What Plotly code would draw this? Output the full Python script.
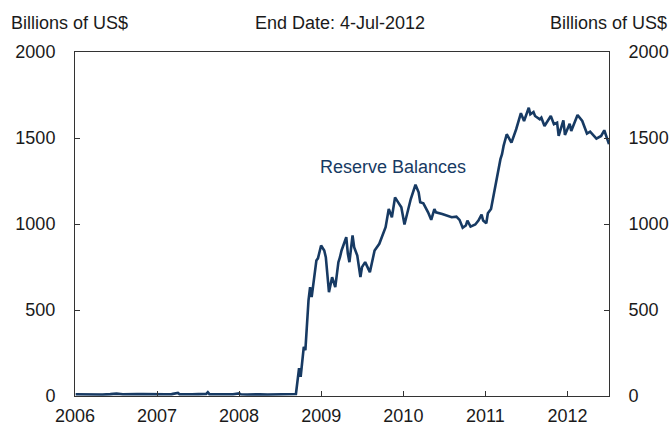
import plotly.graph_objects as go

dates = [
    "2006-01-04", "2006-02-01", "2006-03-01", "2006-04-05", "2006-05-03", "2006-06-07",
    "2006-07-05", "2006-08-02", "2006-09-06", "2006-10-04", "2006-11-01", "2006-12-06",
    "2007-01-03", "2007-02-07", "2007-03-07", "2007-04-04", "2007-04-11", "2007-05-02",
    "2007-06-06", "2007-07-04", "2007-08-08", "2007-08-15", "2007-08-22", "2007-09-05",
    "2007-10-03", "2007-11-07", "2007-12-05", "2008-01-02", "2008-01-09", "2008-02-06",
    "2008-03-05", "2008-04-02", "2008-05-07", "2008-06-04", "2008-07-02", "2008-08-06",
    "2008-09-03", "2008-09-10",
    "2008-09-24", "2008-10-01", "2008-10-15", "2008-10-22", "2008-11-05", "2008-11-12",
    "2008-11-19", "2008-12-10", "2008-12-17", "2008-12-31", "2009-01-14", "2009-01-21",
    "2009-02-04", "2009-02-18", "2009-03-04", "2009-03-18", "2009-03-25", "2009-04-01",
    "2009-04-22", "2009-04-29", "2009-05-06", "2009-05-20", "2009-05-27", "2009-06-10",
    "2009-06-24", "2009-07-01", "2009-07-15", "2009-08-05", "2009-08-26", "2009-09-16",
    "2009-10-14", "2009-10-28", "2009-11-11", "2009-11-25", "2009-12-09", "2009-12-23",
    "2010-01-06", "2010-01-20", "2010-02-03", "2010-02-24", "2010-03-10", "2010-03-17",
    "2010-03-31", "2010-04-21", "2010-05-05", "2010-05-19", "2010-05-26", "2010-06-23",
    "2010-07-14", "2010-08-04", "2010-08-25", "2010-09-08", "2010-09-22", "2010-10-06",
    "2010-10-13", "2010-10-27", "2010-11-17", "2010-12-01", "2010-12-15", "2010-12-22",
    "2011-01-05", "2011-01-12", "2011-01-26", "2011-02-16", "2011-02-23", "2011-03-09",
    "2011-03-16", "2011-03-23", "2011-04-06", "2011-04-27", "2011-05-18", "2011-06-08",
    "2011-06-22", "2011-07-13", "2011-07-20", "2011-08-03", "2011-08-10", "2011-08-31",
    "2011-09-07", "2011-09-21", "2011-10-19", "2011-11-02", "2011-11-16", "2011-11-23",
    "2011-12-14", "2011-12-21", "2012-01-11", "2012-01-18", "2012-02-15", "2012-03-07",
    "2012-03-28", "2012-04-11", "2012-05-09", "2012-05-30", "2012-06-13", "2012-06-27",
    "2012-07-04",
]

reserve_balances = [
    10, 9, 12, 10, 9, 11,
    14, 10, 9, 11, 12, 10,
    9, 10, 11, 18, 10, 9,
    10, 11, 12, 22, 11, 10,
    9, 11, 10, 15, 10, 9,
    11, 10, 9, 10, 11, 10,
    10, 12,
    162, 112, 286, 266, 556, 633,
    575, 788, 800, 875, 846, 807,
    604, 691, 633, 778, 807, 846,
    923, 828, 778, 933, 865, 817,
    691, 749, 778, 720, 846, 885,
    981, 1087, 1039, 1155, 1126, 1097,
    997, 1078, 1145, 1228, 1184, 1126,
    1120, 1068, 1024, 1087, 1068, 1058,
    1049, 1039, 1043, 1024, 978, 991,
    1020, 985, 997, 1020, 1054, 1020,
    1004, 1062, 1087, 1232, 1290, 1377,
    1406, 1454, 1522, 1473, 1551, 1644,
    1599, 1676, 1638, 1651, 1628, 1609,
    1618, 1570, 1628, 1580, 1589, 1512,
    1603, 1518, 1583, 1541, 1634, 1599,
    1526, 1537, 1497, 1512, 1545, 1483,
    1464,
]

series_name = "Reserve Balances"
y_ticks = [0, 500, 1000, 1500, 2000]
unit_label = "Billions of US$"
end_label = "End Date: 4-Jul-2012"

LINE = "#173A63"
TXT = "#1a1a1a"
FONT = "Liberation Sans, Arial, sans-serif"

L, R, T, B = 75, 62, 52, 32
W, H = 671, 428
PW, PH = W - L - R, H - T - B

fig = go.Figure()
fig.add_trace(go.Scatter(x=dates, y=reserve_balances, mode="lines",
                         line=dict(color=LINE, width=2.6), name=series_name,
                         showlegend=False))
fig.add_trace(go.Scatter(x=dates, y=reserve_balances, mode="lines", yaxis="y2",
                         line=dict(color="rgba(0,0,0,0)", width=0), showlegend=False,
                         hoverinfo="skip"))

axis_common = dict(showgrid=False, zeroline=False, showline=True, linecolor="#333",
                   linewidth=1, ticks="inside", ticklen=5, tickcolor="#333",
                   automargin=False,
                   tickfont=dict(family=FONT, size=18, color=TXT))

fig.update_layout(
    width=W, height=H,
    margin=dict(l=L, r=R, t=T, b=B),
    paper_bgcolor="white", plot_bgcolor="white",
    xaxis=dict(type="date", range=["2006-01-01", "2012-07-04"], dtick="M12",
               tick0="2006-01-01", tickformat="%Y", mirror=True,
               ticklabelstandoff=3, **axis_common),
    yaxis=dict(range=[0, 2000], tickvals=y_ticks, ticklabelstandoff=15, **axis_common),
    yaxis2=dict(range=[0, 2000], tickvals=y_ticks, overlaying="y", side="right",
                anchor="x", ticklabelstandoff=15, **axis_common),
    annotations=[
        dict(text=unit_label, xref="paper", yref="paper", x=(9 - L) / PW,
             y=(H - B - 23) / PH, xanchor="left", yanchor="middle", showarrow=False,
             font=dict(family=FONT, size=18, color=TXT)),
        dict(text=end_label, xref="paper", yref="paper", x=(340 - L) / PW,
             y=(H - B - 23) / PH, xanchor="center", yanchor="middle", showarrow=False,
             font=dict(family=FONT, size=18, color=TXT)),
        dict(text=unit_label, xref="paper", yref="paper", x=(669 - L) / PW,
             y=(H - B - 23) / PH, xanchor="right", yanchor="middle", showarrow=False,
             font=dict(family=FONT, size=18, color=TXT)),
        dict(text=series_name, x="2009-11-15", y=1329, xref="x", yref="y",
             showarrow=False, xanchor="center", yanchor="middle",
             font=dict(family=FONT, size=18, color=LINE)),
    ],
)

fig.write_html("out.html", config={"displayModeBar": False},
               post_script="document.body.style.margin='0';document.body.style.padding='0';")
